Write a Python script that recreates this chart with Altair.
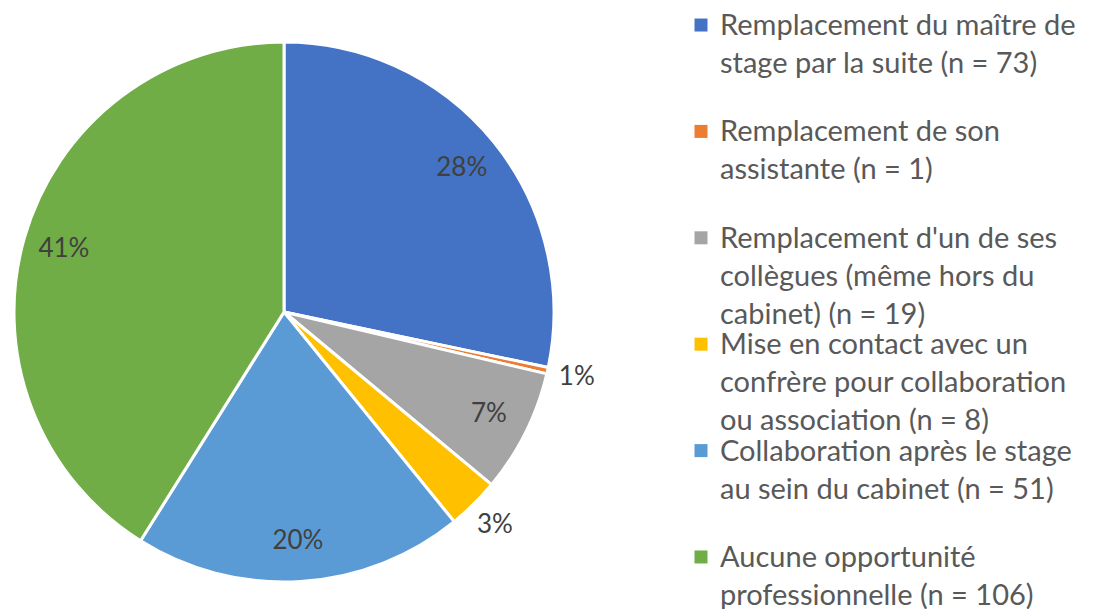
import altair as alt
import pandas as pd

categories = [
    "Remplacement du maître de stage par la suite (n = 73)",
    "Remplacement de son assistante (n = 1)",
    "Remplacement d'un de ses collègues (même hors du cabinet) (n = 19)",
    "Mise en contact avec un confrère pour collaboration ou association (n = 8)",
    "Collaboration après le stage au sein du cabinet (n = 51)",
    "Aucune opportunité professionnelle (n = 106)",
]
legend_lines = [
    "Remplacement du maître de|stage par la suite (n = 73)",
    "Remplacement de son|assistante (n = 1)",
    "Remplacement d'un de ses|collègues (même hors du|cabinet) (n = 19)",
    "Mise en contact avec un|confrère pour collaboration|ou association (n = 8)",
    "Collaboration après le stage|au sein du cabinet (n = 51)",
    "Aucune opportunité|professionnelle (n = 106)",
]
counts = [73, 1, 19, 8, 51, 106]
pct_labels = ["28%", "1%", "7%", "3%", "20%", "41%"]
colors = ["#4472C4", "#ED7D31", "#A5A5A5", "#FFC000", "#5B9BD5", "#70AD47"]

df = pd.DataFrame({
    "cat": categories,
    "lbl": legend_lines,
    "n": counts,
    "pct": pct_labels,
    "idx": list(range(len(categories))),
})

color_scale = alt.Scale(domain=categories, range=colors)
CX, CY = 268, 304

pie = alt.Chart(df).mark_arc(outerRadius=270, stroke="white", strokeWidth=3).encode(
    theta=alt.Theta("n:Q", stack=True),
    order=alt.Order("idx:Q"),
    x=alt.value(CX),
    y=alt.value(CY),
    color=alt.Color("cat:N", scale=color_scale, legend=None),
)

text_base = alt.Chart(df).transform_window(
    cum="sum(n)", sort=[alt.SortField("idx")], frame=[None, 0]
).transform_calculate(mid="datum.cum - datum.n / 2")

inside = text_base.transform_filter("datum.n >= 10").mark_text(
    font="Lato", fontSize=26, color="#404040", radius=229
).encode(
    theta=alt.Theta("mid:Q", stack=None),
    x=alt.value(CX),
    y=alt.value(CY),
    text="pct:N",
)

outside = text_base.transform_filter("datum.n < 10").mark_text(
    font="Lato", fontSize=26, color="#404040", radius=300
).encode(
    theta=alt.Theta("mid:Q", stack=None),
    x=alt.value(CX),
    y=alt.value(CY),
    text="pct:N",
)

pie_chart = (pie + inside + outside).properties(width=640, height=593)

ypos = alt.Y(
    "idx:O",
    axis=None,
    scale=alt.Scale(type="point", padding=0.16),
)

leg_sym = alt.Chart(df).mark_square(size=169, opacity=1).encode(
    x=alt.value(45),
    y=ypos,
    color=alt.Color("cat:N", scale=color_scale, legend=None),
)

leg_txt = alt.Chart(df).mark_text(
    font="Lato",
    fontSize=29,
    color="#595959",
    align="left",
    baseline="alphabetic",
    dy=10,
    lineBreak="|",
    lineHeight=38,
).encode(
    x=alt.value(64),
    y=ypos,
    text="lbl:N",
)

legend_chart = (leg_sym + leg_txt).properties(width=430, height=566)

chart = alt.hconcat(pie_chart, legend_chart, spacing=0).properties(
    padding=0
).configure_view(stroke=None)

chart.save("out.html", embed_options={"renderer": "svg", "actions": False})
